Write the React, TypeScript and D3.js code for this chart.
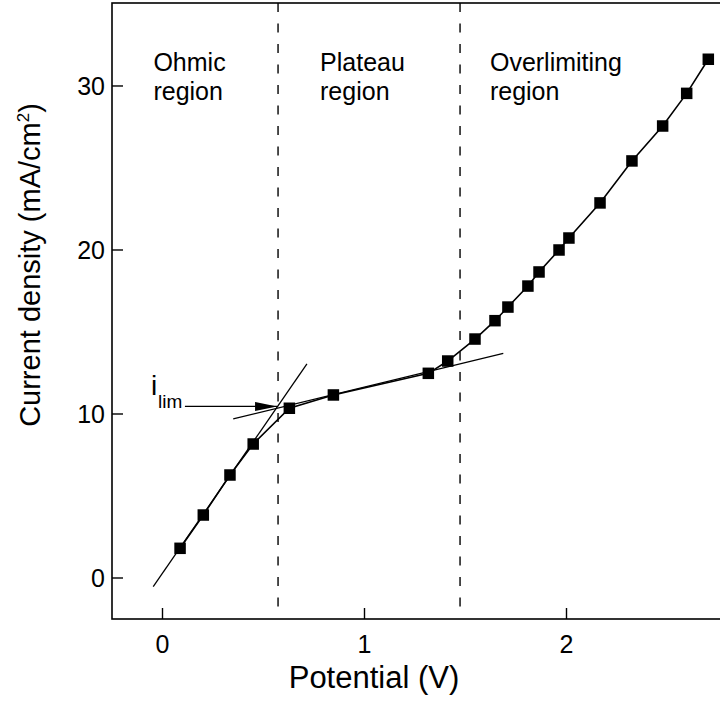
import React from "react";
import * as d3 from "d3";

// Measured polarization curve
const potential = [0.087, 0.202, 0.334, 0.449, 0.628, 0.846, 1.316, 1.412, 1.547, 1.646, 1.71, 1.809, 1.864, 1.963, 2.012, 2.166, 2.324, 2.476, 2.595, 2.702];
const current = [1.81, 3.84, 6.28, 8.17, 10.35, 11.16, 12.48, 13.23, 14.57, 15.69, 16.52, 17.8, 18.66, 20.0, 20.73, 22.87, 25.43, 27.56, 29.55, 31.63];

// Tangent lines for the ohmic and plateau regions
const ohmicFitV = [-0.046, 0.715];
const ohmicFitI = [-0.53, 13.05];
const plateauFitV = [0.35, 1.687];
const plateauFitI = [9.7, 13.7];

// Region boundaries (V)
const regionBounds = [0.572, 1.473];

// Limiting current arrow (from V, to V, at current)
const arrowV = [0.111, 0.567];
const arrowI = 10.46;

const xTicks = [0, 1, 2];
const yTicks = [0, 10, 20, 30];

const regionNames = ["Ohmic", "Plateau", "Overlimiting"];
const regionLabelV = [-0.045, 0.78, 1.621];

const W = 720;
const H = 702;
const FONT = "'Liberation Sans', Arial, Helvetica, sans-serif";

export default function App() {
  const x = d3.scaleLinear().domain([-0.25, 2.8]).range([112, 728.1]);
  const y = d3.scaleLinear().domain([-2.5, 35.06]).range([619, 3]);

  const line = d3
    .line<[number, number]>()
    .x((d) => x(d[0]))
    .y((d) => y(d[1]));

  const dataPts: [number, number][] = potential.map((v, i) => [v, current[i]]);
  const ohmic: [number, number][] = ohmicFitV.map((v, i) => [v, ohmicFitI[i]]);
  const plateau: [number, number][] = plateauFitV.map((v, i) => [v, plateauFitI[i]]);

  const [x0, x1] = x.range();
  const [yb, yt] = y.range();
  const sq = 11.5;

  return (
    <svg
      width={W}
      height={H}
      style={{ position: "absolute", left: 0, top: 0, background: "#fff" }}
      fontFamily={FONT}
    >
      <defs>
        <marker
          id="arrowHead"
          viewBox="0 0 22 9"
          refX={22}
          refY={4.5}
          markerWidth={22}
          markerHeight={9}
          markerUnits="userSpaceOnUse"
          orient="auto"
        >
          <path d="M0,0 L22,4.5 L0,9 Z" fill="#000" />
        </marker>
      </defs>

      {/* frame */}
      <rect x={x0} y={yt} width={x1 - x0} height={yb - yt} fill="none" stroke="#000" strokeWidth={1.6} />

      {/* x ticks */}
      {xTicks.map((t) => (
        <g key={"xt" + t}>
          <line x1={x(t)} x2={x(t)} y1={yb} y2={yb - 11} stroke="#000" strokeWidth={1.4} />
          <text x={x(t)} y={653} textAnchor="middle" fontSize={25}>
            {t}
          </text>
        </g>
      ))}

      {/* y ticks */}
      {yTicks.map((t) => (
        <g key={"yt" + t}>
          <line x1={x0} x2={x0 + 11} y1={y(t)} y2={y(t)} stroke="#000" strokeWidth={1.4} />
          <text x={105} y={y(t)} dy="0.36em" textAnchor="end" fontSize={25}>
            {t}
          </text>
        </g>
      ))}

      {/* region boundaries */}
      {regionBounds.map((b) => (
        <line
          key={"rb" + b}
          x1={x(b)}
          x2={x(b)}
          y1={yt}
          y2={611}
          stroke="#000"
          strokeWidth={1.4}
          strokeDasharray="9,11.5"
        />
      ))}

      {/* region labels */}
      {regionNames.map((n, i) => (
        <text key={n} x={x(regionLabelV[i])} y={71} fontSize={25}>
          <tspan x={x(regionLabelV[i])}>{n}</tspan>
          <tspan x={x(regionLabelV[i])} dy={29}>
            region
          </tspan>
        </text>
      ))}

      {/* tangent lines */}
      <path d={line(ohmic) || ""} fill="none" stroke="#000" strokeWidth={1.3} />
      <path d={line(plateau) || ""} fill="none" stroke="#000" strokeWidth={1.3} />

      {/* data line and markers */}
      <path d={line(dataPts) || ""} fill="none" stroke="#000" strokeWidth={1.6} />
      {dataPts.map((d, i) => (
        <rect key={"p" + i} x={x(d[0]) - sq / 2} y={y(d[1]) - sq / 2} width={sq} height={sq} fill="#000" />
      ))}

      {/* limiting current annotation */}
      <line
        x1={x(arrowV[0])}
        x2={x(arrowV[1])}
        y1={y(arrowI)}
        y2={y(arrowI)}
        stroke="#000"
        strokeWidth={1.3}
        markerEnd="url(#arrowHead)"
      />
      <text x={151} y={395} fontSize={28}>
        i
      </text>
      <text x={158} y={408} fontSize={19}>
        lim
      </text>

      {/* axis titles */}
      <text x={374} y={688} textAnchor="middle" fontSize={31}>
        Potential (V)
      </text>
      <text transform="translate(40,265) rotate(-90)" textAnchor="middle" fontSize={29}>
        Current density (mA/cm
        <tspan dy={-11} fontSize={17}>
          2
        </tspan>
        <tspan dy={11}>)</tspan>
      </text>
    </svg>
  );
}
